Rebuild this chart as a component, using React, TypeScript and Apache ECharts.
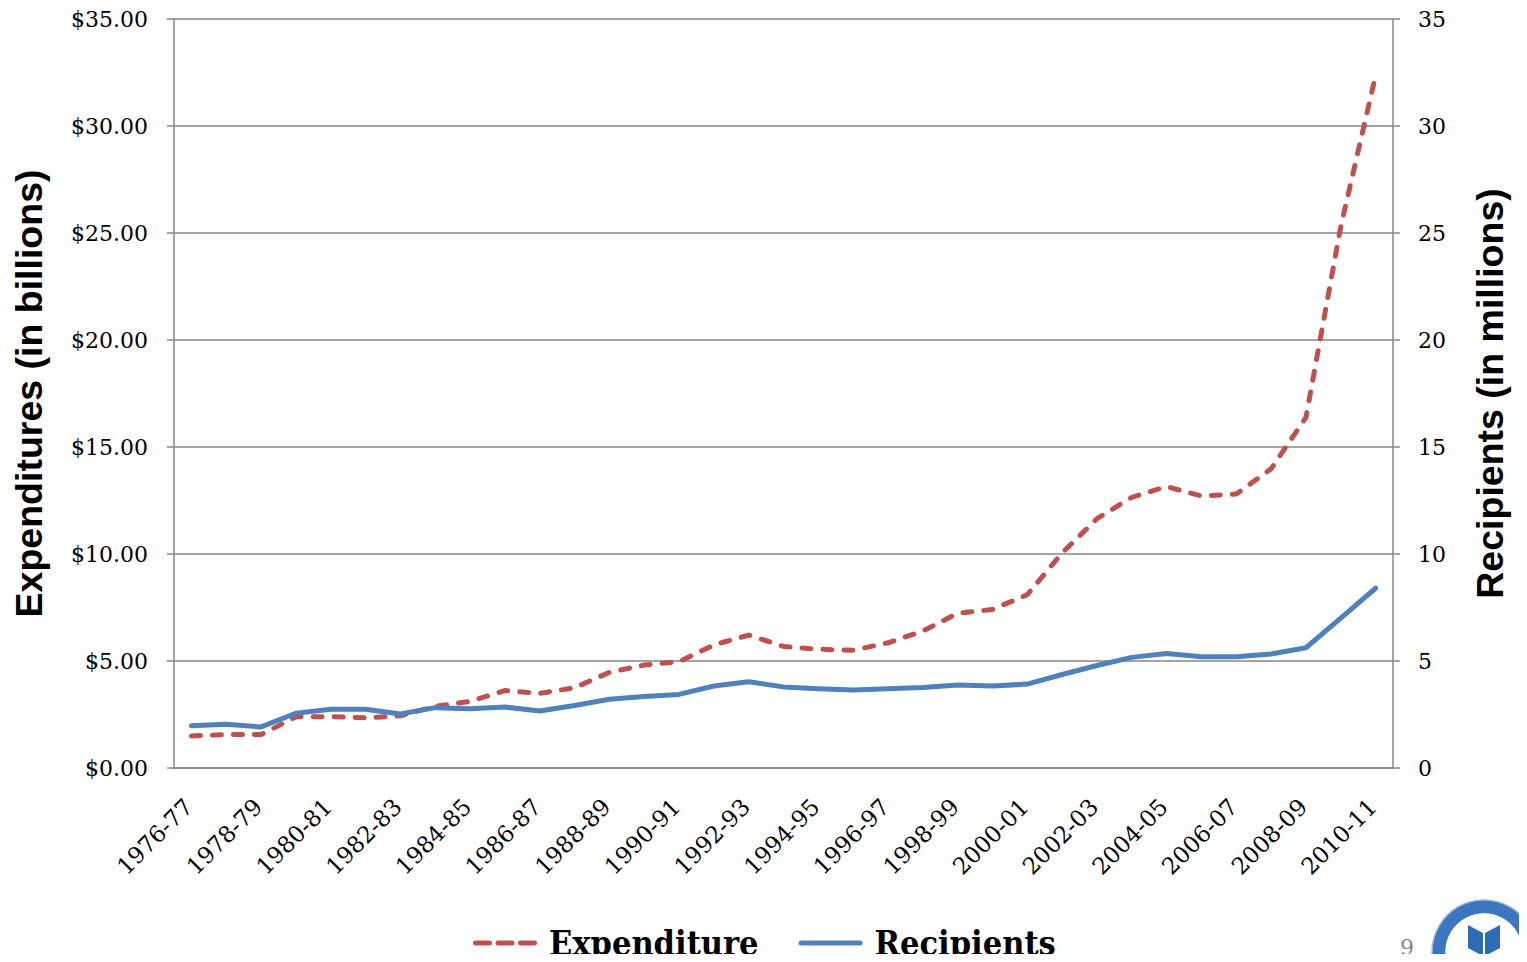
import React, { useEffect, useRef } from "react";
import * as echarts from "echarts";

const categories = [
  "1976-77", "1977-78", "1978-79", "1979-80", "1980-81", "1981-82", "1982-83",
  "1983-84", "1984-85", "1985-86", "1986-87", "1987-88", "1988-89", "1989-90",
  "1990-91", "1991-92", "1992-93", "1993-94", "1994-95", "1995-96", "1996-97",
  "1997-98", "1998-99", "1999-00", "2000-01", "2001-02", "2002-03", "2003-04",
  "2004-05", "2005-06", "2006-07", "2007-08", "2008-09", "2009-10", "2010-11",
];

// Expenditure, billions of dollars
const expenditure = [
  1.5, 1.56, 1.56, 2.39, 2.4, 2.34, 2.44, 2.88, 3.11, 3.62, 3.49, 3.75, 4.47,
  4.81, 4.97, 5.75, 6.21, 5.68, 5.55, 5.5, 5.85, 6.4, 7.23, 7.41, 8.1, 10.05,
  11.65, 12.65, 13.15, 12.71, 12.8, 13.98, 16.38, 25.3, 32.35,
];

// Recipients, millions
const recipients = [
  1.97, 2.04, 1.92, 2.56, 2.75, 2.75, 2.52, 2.82, 2.77, 2.85, 2.66, 2.92, 3.21,
  3.34, 3.44, 3.83, 4.03, 3.79, 3.7, 3.64, 3.7, 3.76, 3.88, 3.83, 3.92, 4.37,
  4.79, 5.17, 5.35, 5.2, 5.2, 5.33, 5.62, 7.0, 8.4,
];

const seriesNames = ["Expenditure", "Recipients"];
const leftAxisTitle = "Expenditures (in billions)";
const rightAxisTitle = "Recipients (in millions)";
const axisMin = 0;
const axisMax = 35;
const axisInterval = 5;
const pageNumber = "9";

const RED = "#C0504D";
const BLUE = "#4F81BD";
const GRAY = "#868686";
const SERIF = "'DejaVu Serif', serif";
const SANS = "'Liberation Sans', Arial, sans-serif";

const roundDash = (x0: number, len: number) =>
  `M${x0 + 2.5},0 h${len - 5} a2.5,2.5 0 0 1 0,5 h${-(len - 5)} a2.5,2.5 0 0 1 0,-5 z`;
const DASHED_ICON = "path://" + [roundDash(0, 19), roundDash(22.5, 19), roundDash(45, 19)].join(" ");
const SOLID_ICON = "path://" + roundDash(0, 64);

export default function App() {
  const ref = useRef<HTMLDivElement>(null);

  useEffect(() => {
    if (!ref.current) return;
    const chart = echarts.init(ref.current, null, { renderer: "svg" });
    const yAxisBase = {
      type: "value",
      min: axisMin,
      max: axisMax,
      interval: axisInterval,
      nameLocation: "middle",
      nameRotate: 90,
      nameTextStyle: { fontFamily: SANS, fontWeight: "bold", fontSize: 37.5, color: "#000" },
      axisLine: { show: true, lineStyle: { color: GRAY, width: 1.5 } },
      axisTick: { show: true, inside: false, length: 7, lineStyle: { color: GRAY, width: 1.5 } },
      axisLabel: { fontFamily: SERIF, fontSize: 22, color: "#000", margin: 26 },
    };
    chart.setOption({
      animation: false,
      backgroundColor: "#fff",
      grid: { left: 174, right: 134, top: 19, bottom: 194, outerBoundsMode: "none", containLabel: false },
      legend: {
        data: [
          { name: seriesNames[0], icon: DASHED_ICON },
          { name: seriesNames[1], icon: SOLID_ICON },
        ],
        left: 468,
        top: 921,
        itemWidth: 64,
        itemHeight: 5,
        itemGap: 40,
        symbolKeepAspect: true,
        textStyle: {
          fontFamily: "'DejaVu Serif Condensed', 'DejaVu Serif', serif",
          fontWeight: "bold",
          fontSize: 34,
          color: "#000",
          padding: [0, 0, 0, 7],
        },
      },
      xAxis: {
        type: "category",
        data: categories,
        boundaryGap: true,
        axisLine: { show: true, lineStyle: { color: GRAY, width: 1.5 } },
        axisTick: { show: false },
        axisLabel: {
          interval: 1,
          rotate: 45,
          fontFamily: SERIF,
          fontSize: 23,
          color: "#000",
          margin: 32,
          padding: [0, 4, 0, 0],
        },
      },
      yAxis: [
        {
          ...yAxisBase,
          position: "left",
          name: leftAxisTitle,
          nameGap: 126,
          axisLabel: { ...yAxisBase.axisLabel, formatter: (v: number) => "$" + v.toFixed(2) },
          splitLine: { show: true, lineStyle: { color: GRAY, width: 1.5 } },
        },
        {
          ...yAxisBase,
          position: "right",
          name: rightAxisTitle,
          nameGap: 78,
          axisLabel: { ...yAxisBase.axisLabel, margin: 25 },
          splitLine: { show: false },
        },
      ],
      series: [
        {
          name: seriesNames[0],
          type: "line",
          yAxisIndex: 0,
          data: expenditure,
          symbol: "none",
          lineStyle: { color: RED, width: 5, type: [9, 12], cap: "round", join: "round" },
          itemStyle: { color: RED },
        },
        {
          name: seriesNames[1],
          type: "line",
          yAxisIndex: 1,
          data: recipients,
          symbol: "none",
          lineStyle: { color: BLUE, width: 5, cap: "round", join: "round" },
          itemStyle: { color: BLUE },
        },
      ],
      graphic: [
        {
          type: "text",
          left: 1400,
          top: 936,
          style: { text: pageNumber, fontFamily: SERIF, fontSize: 22, fill: "#888" },
        },
        {
          type: "group",
          x: 1484,
          y: 952,
          children: [
            { type: "circle", shape: { cx: 0, cy: 0, r: 52 }, style: { fill: "#3C76BE", stroke: "#9DB8DD", lineWidth: 1.5 } },
            { type: "circle", shape: { cx: 0, cy: 0, r: 38 }, style: { fill: "#fff", stroke: "#fff", lineWidth: 1.5 } },
            { type: "polygon", shape: { points: [[-16, -27], [-1, -19], [-1, 4], [-16, -4]] }, style: { fill: "#2E6DB4" } },
            { type: "polygon", shape: { points: [[16, -27], [1, -19], [1, 4], [16, -4]] }, style: { fill: "#2E6DB4" } },
            { type: "rect", shape: { x: -27, y: 8, width: 54, height: 14, r: 4 }, style: { fill: "#fff", stroke: "#2E6DB4", lineWidth: 3.5 } },
          ],
        },
      ],
    } as any);
    return () => chart.dispose();
  }, []);

  return <div ref={ref} style={{ width: 1527, height: 962, margin: -8 }} />;
}
